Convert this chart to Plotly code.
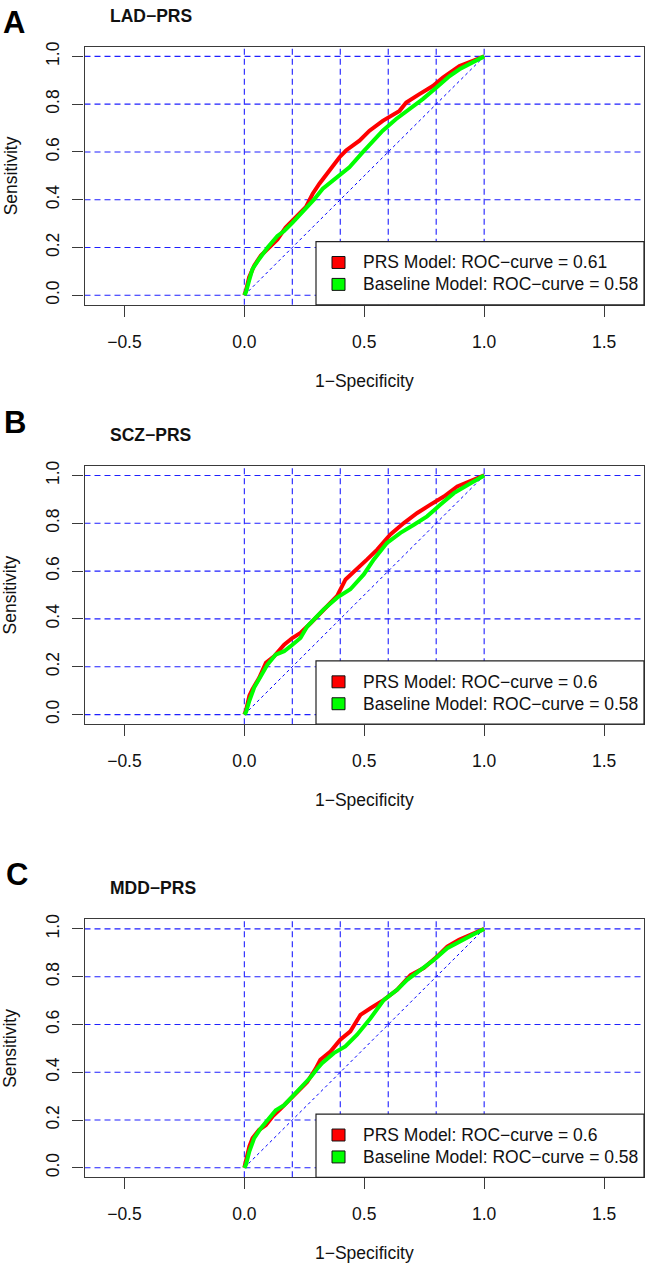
import plotly.graph_objects as go

W, H = 649, 1266

# ---------------- data ----------------
panel_letters = ["A", "B", "C"]
panel_titles = ["LAD−PRS", "SCZ−PRS", "MDD−PRS"]
prs_auc = ["0.61", "0.6", "0.6"]
base_auc = ["0.58", "0.58", "0.58"]

x_ticks = [-0.5, 0.0, 0.5, 1.0, 1.5]
x_tick_labels = ["−0.5", "0.0", "0.5", "1.0", "1.5"]
y_ticks = [0.0, 0.2, 0.4, 0.6, 0.8, 1.0]
y_tick_labels = ["0.0", "0.2", "0.4", "0.6", "0.8", "1.0"]
grid_vals = [0.0, 0.2, 0.4, 0.6, 0.8, 1.0]

lad_prs_fpr = [0, 0.007, 0.02, 0.041, 0.069, 0.103, 0.138, 0.172, 0.2, 0.234, 0.257, 0.285, 0.313, 0.355,
               0.397, 0.424, 0.48, 0.522, 0.577, 0.647, 0.675, 0.73, 0.786, 0.828, 0.897, 0.95, 1]
lad_prs_tpr = [0, 0.02, 0.076, 0.124, 0.166, 0.2, 0.234, 0.283, 0.31, 0.345, 0.37, 0.425, 0.467, 0.522,
               0.578, 0.606, 0.647, 0.689, 0.73, 0.772, 0.807, 0.842, 0.876, 0.911, 0.96, 0.98, 1]
lad_base_fpr = [0, 0.007, 0.02, 0.034, 0.062, 0.097, 0.138, 0.166, 0.2, 0.248, 0.29, 0.327, 0.383, 0.438,
                0.494, 0.536, 0.577, 0.633, 0.689, 0.744, 0.8, 0.856, 0.897, 0.95, 1]
lad_base_tpr = [0, 0.014, 0.062, 0.11, 0.152, 0.2, 0.248, 0.269, 0.303, 0.352, 0.4, 0.446, 0.494, 0.536,
                0.599, 0.647, 0.689, 0.738, 0.779, 0.821, 0.869, 0.918, 0.946, 0.975, 1]

scz_prs_fpr = [0, 0.007, 0.021, 0.034, 0.062, 0.09, 0.124, 0.166, 0.2, 0.234, 0.276, 0.331, 0.387, 0.422,
               0.47, 0.512, 0.554, 0.609, 0.665, 0.721, 0.776, 0.832, 0.888, 0.95, 1]
scz_prs_tpr = [0, 0.017, 0.079, 0.106, 0.154, 0.217, 0.244, 0.292, 0.32, 0.341, 0.382, 0.44, 0.496, 0.565,
               0.607, 0.649, 0.69, 0.753, 0.801, 0.843, 0.878, 0.912, 0.954, 0.98, 1]
scz_base_fpr = [0, 0.007, 0.021, 0.041, 0.069, 0.097, 0.131, 0.166, 0.193, 0.234, 0.262, 0.303, 0.331, 0.387,
                0.442, 0.498, 0.54, 0.595, 0.651, 0.707, 0.762, 0.818, 0.874, 0.94, 1]
scz_base_tpr = [0, 0.01, 0.058, 0.113, 0.161, 0.21, 0.251, 0.265, 0.286, 0.32, 0.368, 0.41, 0.44, 0.489,
                0.524, 0.586, 0.649, 0.718, 0.76, 0.794, 0.829, 0.878, 0.926, 0.965, 1]

mdd_prs_fpr = [0, 0.007, 0.021, 0.034, 0.062, 0.09, 0.117, 0.152, 0.186, 0.221, 0.262, 0.297, 0.317, 0.359,
               0.4, 0.442, 0.484, 0.526, 0.582, 0.637, 0.693, 0.748, 0.804, 0.846, 0.895, 0.95, 1]
mdd_prs_tpr = [0, 0.034, 0.09, 0.124, 0.159, 0.179, 0.214, 0.248, 0.283, 0.317, 0.359, 0.414, 0.452, 0.487,
               0.536, 0.571, 0.64, 0.668, 0.703, 0.745, 0.807, 0.836, 0.884, 0.926, 0.954, 0.978, 1]
mdd_base_fpr = [0, 0.007, 0.021, 0.041, 0.069, 0.097, 0.131, 0.166, 0.2, 0.234, 0.276, 0.303, 0.324, 0.373,
                0.421, 0.47, 0.526, 0.582, 0.637, 0.679, 0.735, 0.79, 0.846, 0.895, 0.95, 1]
mdd_base_tpr = [0, 0.014, 0.069, 0.124, 0.166, 0.2, 0.241, 0.262, 0.297, 0.331, 0.379, 0.414, 0.438, 0.48,
                0.508, 0.557, 0.626, 0.703, 0.745, 0.787, 0.829, 0.87, 0.919, 0.947, 0.975, 1]

curves = [
    (lad_prs_fpr, lad_prs_tpr, lad_base_fpr, lad_base_tpr),
    (scz_prs_fpr, scz_prs_tpr, scz_base_fpr, scz_base_tpr),
    (mdd_prs_fpr, mdd_prs_tpr, mdd_base_fpr, mdd_base_tpr),
]

# ---------------- layout geometry (pixels) ----------------
BOX_L, BOX_R = 84.5, 644.0
box_tops = [42.0, 462.7, 918.0]
box_bots = [301.0, 722.0, 1177.0]
title_y = [11.0, 432.0, 886.5]
letter_pos = [(14.5, 17.5), (15.0, 419.0), (16.5, 873.0)]

FONT = "Liberation Sans, Arial, Helvetica, sans-serif"
FS = 17.5
GRID_C = "#1f1fff"
BOX_C = "#3a3a3a"
RED = "#ff0000"
GREEN = "#00ff00"


def px(x):
    return x / W


def py(y):
    return 1 - y / H


fig = go.Figure()
shapes = []
annotations = []

y_range = [-0.04, 1.04]
ppu = (box_bots[0] - box_tops[0]) / (y_range[1] - y_range[0])
half = (BOX_R - BOX_L) / 2 / ppu
x_range = [0.5 - half, 0.5 + half]

for i in range(3):
    sfx = "" if i == 0 else str(i + 1)
    xa, ya = "x" + sfx, "y" + sfx
    pf, pt, bf, bt = curves[i]

    fig.add_trace(go.Scatter(x=pf, y=pt, mode="lines", line=dict(color=RED, width=4),
                             xaxis=xa, yaxis=ya, showlegend=False, hoverinfo="skip"))
    fig.add_trace(go.Scatter(x=bf, y=bt, mode="lines", line=dict(color=GREEN, width=4),
                             xaxis=xa, yaxis=ya, showlegend=False, hoverinfo="skip"))

    dom_x = [px(BOX_L), px(BOX_R)]
    dom_y = [py(box_bots[i]), py(box_tops[i])]
    axis_common = dict(showgrid=False, zeroline=False, showline=True, mirror=True,
                       linecolor=BOX_C, linewidth=1.2, ticks="outside", ticklen=11,
                       tickwidth=1, tickcolor=BOX_C,
                       tickfont=dict(family=FONT, size=FS, color="#111111"))
    fig.update_layout(**{
        "xaxis" + sfx: dict(domain=dom_x, range=x_range, tickvals=x_ticks, ticktext=x_tick_labels,
                            anchor=ya, ticklabelstandoff=10, **axis_common),
        "yaxis" + sfx: dict(domain=dom_y, range=y_range, tickvals=y_ticks, ticktext=y_tick_labels,
                            anchor=xa, tickangle=-90, ticklabelstandoff=6, **axis_common),
    })

    # grid lines
    for g in grid_vals:
        shapes.append(dict(type="line", xref=xa, yref=ya + " domain",
                           x0=g, x1=g, y0=0, y1=1, layer="below",
                           line=dict(color=GRID_C, width=1.1, dash="6px,4px")))
        shapes.append(dict(type="line", xref=xa + " domain", yref=ya, x0=0, x1=1, y0=g, y1=g,
                           layer="below", line=dict(color=GRID_C, width=1.1, dash="6px,4px")))
    # diagonal reference
    shapes.append(dict(type="line", xref=xa, yref=ya, x0=0, y0=0, x1=1, y1=1, layer="below",
                       line=dict(color="#0000ff", width=1, dash="3px,3px")))

    # legend (manual, R style)
    bot = box_bots[i]
    shapes.append(dict(type="rect", xref="paper", yref="paper",
                       x0=px(316.0), x1=px(BOX_R), y0=py(bot), y1=py(bot - 63.5),
                       fillcolor="white", line=dict(color="#222222", width=1.2), layer="above"))
    rows = [(bot - 42.5, RED, "PRS Model: ROC−curve = " + prs_auc[i]),
            (bot - 20.5, GREEN, "Baseline Model: ROC−curve = " + base_auc[i])]
    for (ry, col, txt) in rows:
        shapes.append(dict(type="rect", xref="paper", yref="paper",
                           x0=px(332.0), x1=px(345.0), y0=py(ry + 6), y1=py(ry - 6),
                           fillcolor=col, line=dict(color="#111111", width=1), layer="above"))
        annotations.append(dict(x=px(360.5), y=py(ry), xref="paper", yref="paper", text=txt,
                                xanchor="left", yanchor="middle", showarrow=False,
                                font=dict(family=FONT, size=FS, color="#111111")))

    # panel title and letter
    annotations.append(dict(x=px(107.5), y=py(title_y[i]), xref="paper", yref="paper",
                            text="<b>" + panel_titles[i] + "</b>", xanchor="left", yanchor="middle",
                            showarrow=False, font=dict(family=FONT, size=FS, color="#111111")))
    lx, ly = letter_pos[i]
    annotations.append(dict(x=px(lx), y=py(ly), xref="paper", yref="paper",
                            text="<b>" + panel_letters[i] + "</b>", xanchor="center", yanchor="middle",
                            showarrow=False, font=dict(family=FONT, size=31, color="#000000")))
    # axis titles
    annotations.append(dict(x=px((BOX_L + BOX_R) / 2), y=py(bot + 76), xref="paper", yref="paper",
                            text="1−Specificity", xanchor="center", yanchor="middle", showarrow=False,
                            font=dict(family=FONT, size=FS, color="#111111")))
    annotations.append(dict(x=px(10.5), y=py((box_tops[i] + bot) / 2), xref="paper", yref="paper",
                            text="Sensitivity", textangle=-90, xanchor="center", yanchor="middle",
                            showarrow=False, font=dict(family=FONT, size=FS, color="#111111")))

fig.update_layout(width=W, height=H, autosize=False,
                  margin=dict(l=0, r=0, t=0, b=0),
                  paper_bgcolor="white", plot_bgcolor="white",
                  shapes=shapes, annotations=annotations, showlegend=False)

fig.write_html("out.html")
